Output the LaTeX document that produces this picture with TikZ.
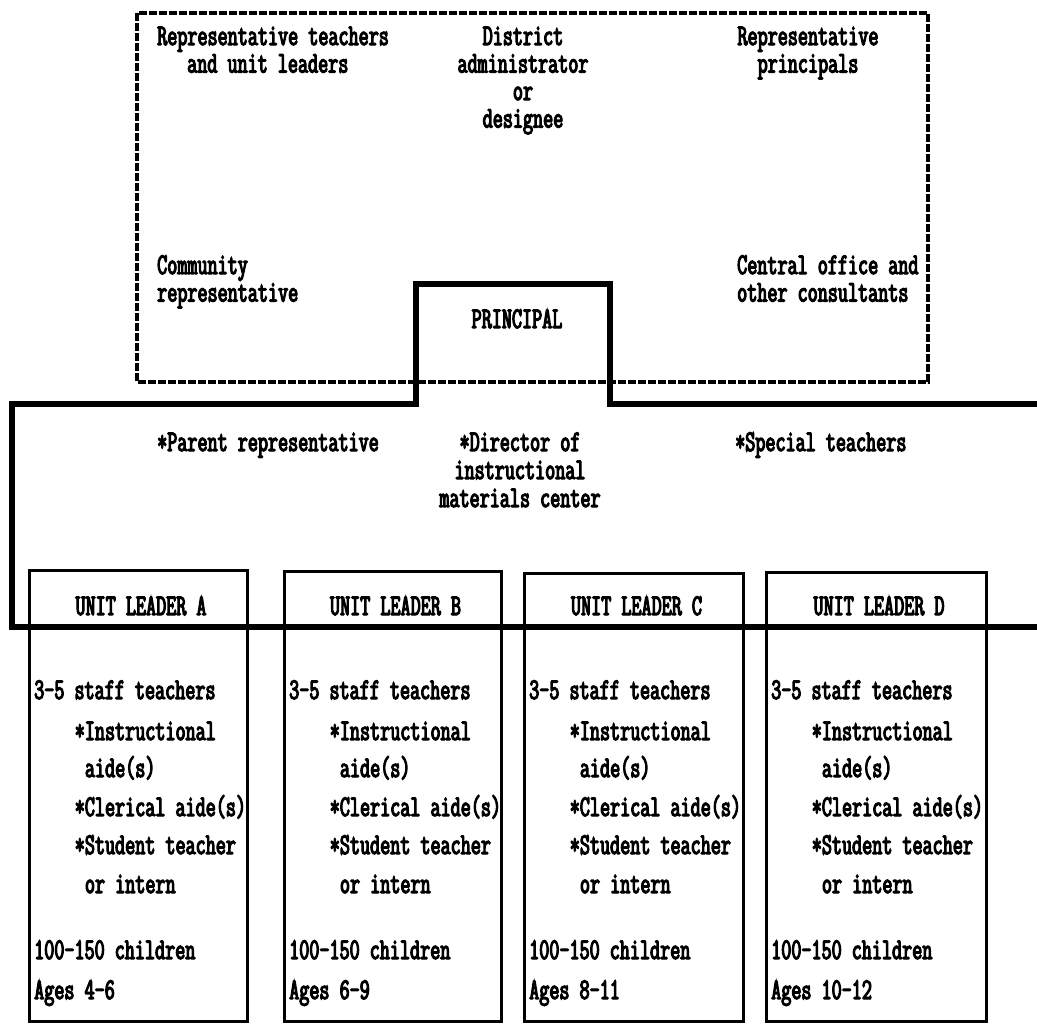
\documentclass[tikz,border=0pt]{standalone}
\usepackage{fontspec}
\newfontfamily\tw{Latin Modern Mono}[FakeStretch=0.652, FakeBold=4]
\begin{document}
\begin{tikzpicture}[x=1pt,y=-1pt,
  txt/.style={font=\tw\fontsize{30}{27}\selectfont, inner sep=0pt, anchor=base west},
  ctxt/.style={txt, anchor=base},
  dashbox/.style={draw, line width=3.2pt, dash pattern=on 8pt off 2pt},
  heavy/.style={line width=6.5pt, line join=miter},
  unitbox/.style={draw, line width=2.5pt, inner sep=0pt, anchor=north west}]
\useasboundingbox[fill=white] (0,0) rectangle (1037,1026);

% advisory committee (dashed)
\draw[dashbox] (137,13) rectangle (928,382);
\node[txt] (rt1) at (157,45) {Representative teachers};
\node[txt] (rt2) at (187,72.5) {and unit leaders};
\node[ctxt] (da1) at (523,45) {District};
\node[ctxt] (da2) at (523,72.5) {administrator};
\node[ctxt] (da3) at (523,100) {or};
\node[ctxt] (da4) at (523,127.5) {designee};
\node[ctxt] (rp1) at (808,45) {Representative};
\node[ctxt] (rp2) at (808,72.5) {principals};
\node[txt] (cr1) at (157,274) {Community};
\node[txt] (cr2) at (157,301.5) {representative};
\node[txt] (co1) at (737,274) {Central office and};
\node[txt] (co2) at (737,301.5) {other consultants};

% principal and instructional improvement committee
\coordinate (r1) at (1037,404);
\coordinate (r2) at (610,404);
\coordinate (r3) at (610,284);
\coordinate (l3) at (416,284);
\coordinate (l2) at (416,404);
\coordinate (l1) at (12,404);
\coordinate (b1) at (12,627);
\coordinate (b2) at (1037,627);
\draw[heavy] (r1) -- (r2) -- (r3) -- (l3) -- (l2) -- (l1) -- (b1) -- (b2);
\node[ctxt] (pr) at (517,328) {PRINCIPAL};
\node[txt] (par) at (157,451) {*Parent representative};
\node[ctxt] (dir1) at (520,451) {*Director of};
\node[ctxt] (dir2) at (520,479) {instructional};
\node[ctxt] (dir3) at (520,507) {materials center};
\node[txt] (spt) at (735,451) {*Special teachers};

% unit boxes
\foreach \n/\xl/\xr/\yt/\ages in {A/28/246/569/{Ages 4-6},B/283/500/570/{Ages 6-9},C/523/742/572/{Ages 8-11},D/765/985/571/{Ages 10-12}}{
  \pgfmathsetmacro{\w}{\xr-\xl}
  \pgfmathsetmacro{\h}{1020-\yt}
  \pgfmathsetmacro{\cx}{(\xl+\xr)/2+4}
  \pgfmathsetmacro{\tx}{\xl+6}
  \node[unitbox, minimum width=\w pt, minimum height=\h pt] (box\n) at (\xl,\yt) {};
  \node[ctxt] (head\n) at (\cx,615) {UNIT LEADER \n};
  \node[txt] (st\n) at (\tx,699) {3-5 staff teachers};
  \node[txt] (ia\n) at (\tx+40.6,740) {*Instructional};
  \node[txt] (ib\n) at (\tx+50.75,777) {aide(s)};
  \node[txt] (ca\n) at (\tx+40.6,816) {*Clerical aide(s)};
  \node[txt] (sa\n) at (\tx+40.6,854) {*Student teacher};
  \node[txt] (sb\n) at (\tx+50.75,893) {or intern};
  \node[txt] (ch\n) at (\tx,959) {100-150 children};
  \node[txt] (ag\n) at (\tx,999) {\ages};
}
\end{tikzpicture}
\end{document}
